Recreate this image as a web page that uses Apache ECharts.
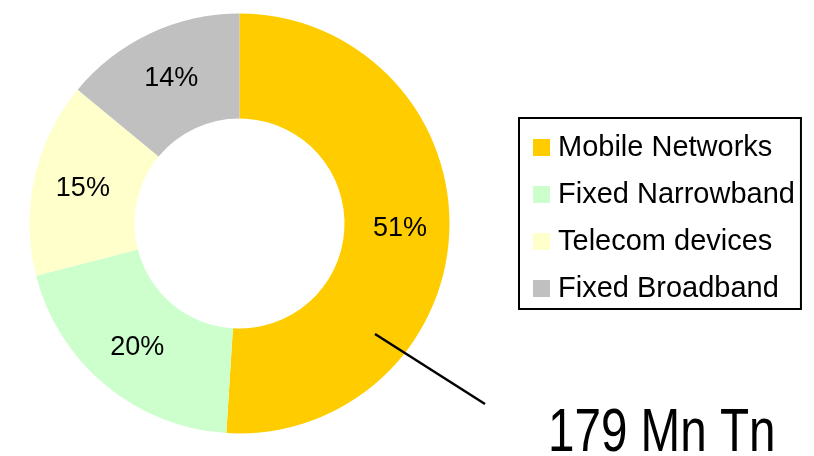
<!DOCTYPE html>
<html>
<head>
<meta charset="utf-8">
<script src="https://cdn.jsdelivr.net/npm/echarts@6/dist/echarts.min.js"></script>
<style>
html,body{margin:0;padding:0;background:#fff;}
#c{width:814px;height:456px;}
</style>
</head>
<body>
<div id="c"></div>
<script>
const categories = ['Mobile Networks', 'Fixed Narrowband', 'Telecom devices', 'Fixed Broadband'];
const shares = [51, 20, 15, 14];
const sliceColors = ['#FFCC00', '#CCFFCC', '#FFFFCC', '#C0C0C0'];
const totalLabel = '179 Mn Tn';

const font = "'Liberation Sans', Arial, sans-serif";
const chart = echarts.init(document.getElementById('c'), null, {renderer: 'canvas'});
chart.setOption({
  animation: false,
  backgroundColor: '#fff',
  color: sliceColors,
  legend: {
    orient: 'vertical',
    left: 519,
    top: 118,
    data: categories,
    icon: 'rect',
    itemWidth: 17,
    itemHeight: 17,
    itemGap: 18,
    padding: [15, 6, 6, 14],
    borderColor: '#000',
    borderWidth: 2,
    selectedMode: false,
    textStyle: {fontFamily: font, fontSize: 29, lineHeight: 29, color: '#000', padding: [0, 0, 0, 3]}
  },
  series: [{
    type: 'pie',
    center: [239.5, 223.5],
    radius: [105, 210],
    startAngle: 90,
    clockwise: true,
    silent: true,
    label: {
      show: true,
      position: 'inside',
      formatter: '{c}%',
      fontFamily: font,
      fontSize: 27,
      color: '#000'
    },
    labelLine: {show: false},
    itemStyle: {borderWidth: 0},
    emphasis: {disabled: true},
    data: categories.map((n, i) => ({name: n, value: shares[i]}))
  }],
  graphic: [
    {type: 'line', z: 100, shape: {x1: 375, y1: 334, x2: 485, y2: 404}, style: {stroke: '#000', lineWidth: 2.5}},
    {type: 'text', z: 100, x: 548, y: 465, scaleX: 0.78, style: {text: totalLabel, fontFamily: font, fontSize: 61, fill: '#000', verticalAlign: 'bottom'}}
  ]
});
</script>
</body>
</html>
